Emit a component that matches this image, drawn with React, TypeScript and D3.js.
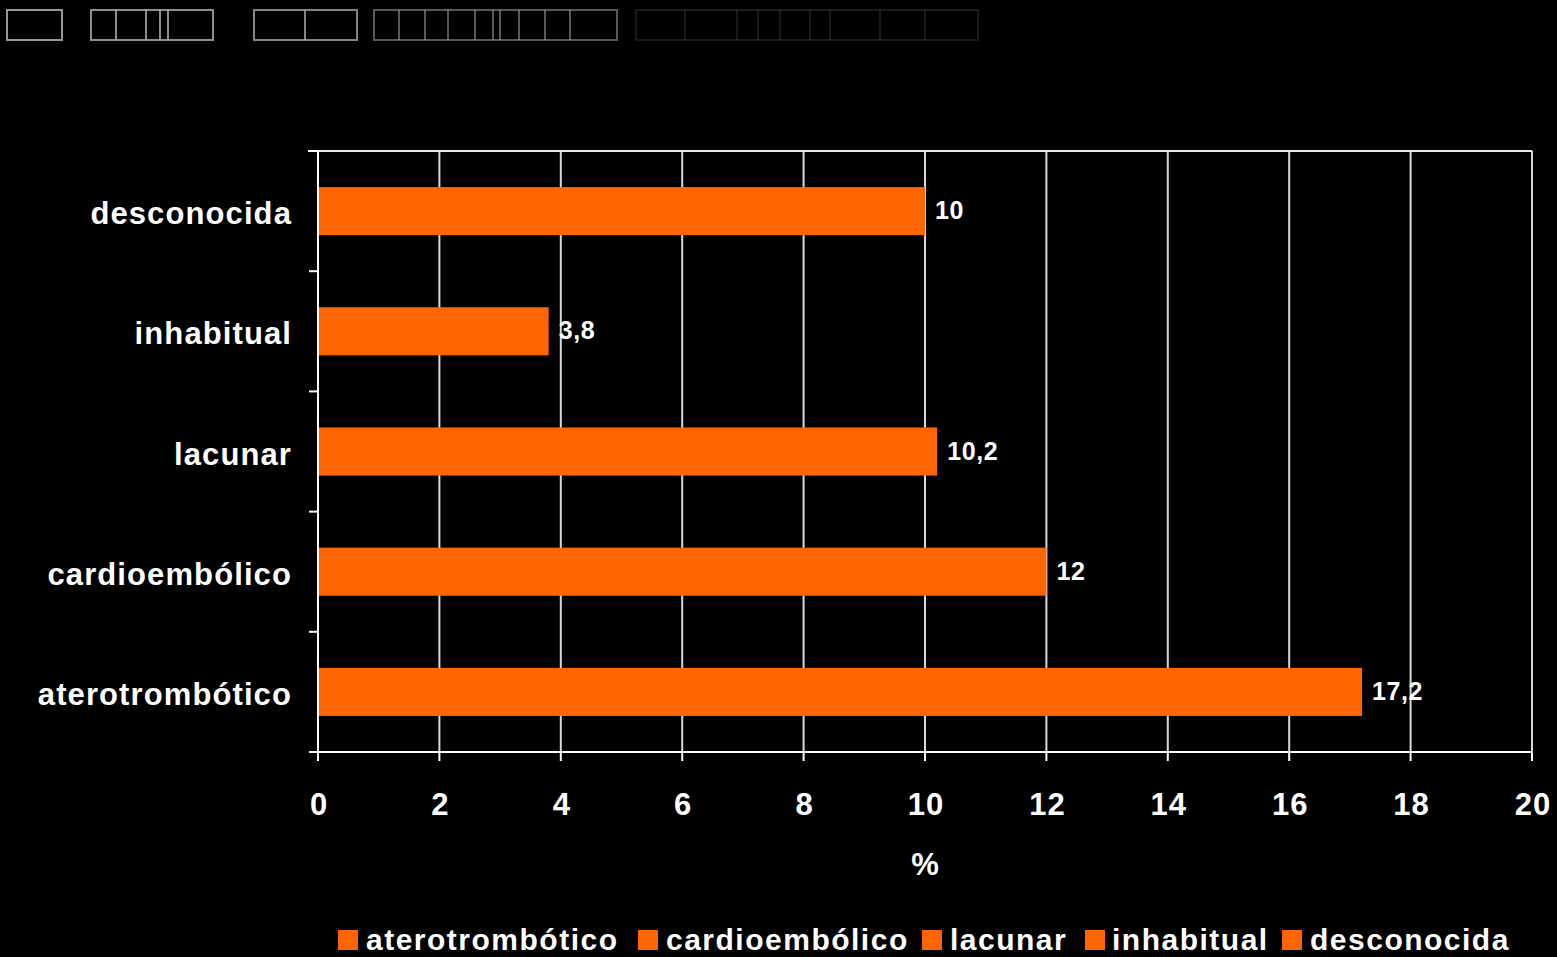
import React from "react";
import * as d3 from "d3";

const categories = ["aterotrombótico", "cardioembólico", "lacunar", "inhabitual", "desconocida"];
const values = [17.2, 12, 10.2, 3.8, 10];
const valueLabels = ["17,2", "12", "10,2", "3,8", "10"];
const xTicks = [0, 2, 4, 6, 8, 10, 12, 14, 16, 18, 20];
const axisTitle = "%";

// decorative "missing glyph" boxes of the unreadable title
const titleBoxes: { x0: number; x1: number; dividers: number[]; op: number }[] = [
  { x0: 7, x1: 62, dividers: [], op: 0.85 },
  { x0: 91, x1: 213, dividers: [116, 146, 160, 168], op: 0.8 },
  { x0: 254, x1: 357, dividers: [305], op: 0.75 },
  { x0: 374, x1: 617, dividers: [399, 425, 448, 475, 493, 500, 519, 545, 570], op: 0.5 },
  { x0: 636, x1: 978, dividers: [685, 737, 758, 780, 810, 830, 880, 925], op: 0.15 },
];

const W = 1557;
const H = 957;
const M = { left: 318, right: 1532, top: 151, bottom: 752 };
const ORANGE = "#FF6600";
const FONT = "'Liberation Sans', Arial, Helvetica, sans-serif";

export default function App() {
  const x = d3.scaleLinear().domain([0, 20]).range([M.left, M.right]);
  const order = categories.map((_, i) => i).reverse();
  const y = d3
    .scaleBand<number>()
    .domain(order)
    .range([M.top, M.bottom])
    .paddingInner(0.6)
    .paddingOuter(0.3);
  const bandEdges = d3.range(categories.length + 1).map((i) => M.top + i * ((M.bottom - M.top) / categories.length));

  const legendItems = [
    { sq: 338, tx: 366 },
    { sq: 638, tx: 666 },
    { sq: 922, tx: 950 },
    { sq: 1085, tx: 1112 },
    { sq: 1282, tx: 1310 },
  ];

  return (
    <div style={{ position: "fixed", left: 0, top: 0, width: W, height: H, background: "#000" }}>
      <svg width={W} height={H} style={{ display: "block", background: "#000" }}>
        <g>
          {titleBoxes.map((b, i) => (
            <g key={i} stroke="#b0b0b0" strokeOpacity={b.op} fill="none" strokeWidth={2}>
              <rect x={b.x0} y={10} width={b.x1 - b.x0} height={30} />
              {b.dividers.map((d, j) => (
                <line key={j} x1={d} x2={d} y1={10} y2={40} />
              ))}
            </g>
          ))}
        </g>

        {xTicks.map((t) => (
          <line key={"g" + t} x1={x(t)} x2={x(t)} y1={M.top} y2={M.bottom} stroke="#d8d8d8" strokeWidth={2} />
        ))}
        <line x1={x(0) - 10} x2={x(20)} y1={M.top} y2={M.top} stroke="#e8e8e8" strokeWidth={2} />

        {values.map((v, i) => (
          <rect key={"b" + i} x={x(0)} y={y(i)!} width={x(v) - x(0)} height={y.bandwidth()} fill={ORANGE} />
        ))}

        <line x1={x(0)} x2={x(0)} y1={M.top} y2={M.bottom + 8} stroke="#fff" strokeWidth={2} />
        {bandEdges.map((e, i) => (
          <line key={"yt" + i} x1={x(0) - 9} x2={x(0)} y1={e} y2={e} stroke="#fff" strokeWidth={2} />
        ))}
        <line x1={x(0) - 9} x2={x(20)} y1={M.bottom} y2={M.bottom} stroke="#fff" strokeWidth={2} />
        {xTicks.map((t) => (
          <line key={"xt" + t} x1={x(t)} x2={x(t)} y1={M.bottom} y2={M.bottom + 9} stroke="#fff" strokeWidth={2} />
        ))}

        {xTicks.map((t) => (
          <text
            key={"xl" + t}
            x={x(t) + 1}
            y={815}
            textAnchor="middle"
            fill="#fff"
            fontFamily={FONT}
            fontWeight="bold"
            fontSize={31}
            letterSpacing={1}
          >
            {t}
          </text>
        ))}
        <text x={925} y={875} textAnchor="middle" fill="#fff" fontFamily={FONT} fontWeight="bold" fontSize={31}>
          {axisTitle}
        </text>

        {categories.map((c, i) => (
          <text
            key={"yl" + i}
            x={292}
            y={y(i)! + y.bandwidth() / 2 + 13}
            textAnchor="end"
            fill="#fff"
            fontFamily={FONT}
            fontWeight="bold"
            fontSize={31}
            letterSpacing={1.1}
          >
            {c}
          </text>
        ))}

        {values.map((v, i) => (
          <text
            key={"vl" + i}
            x={x(v) + 10}
            y={y(i)! + y.bandwidth() / 2 + 8}
            fill="#fff"
            fontFamily={FONT}
            fontWeight="bold"
            fontSize={25}
            letterSpacing={0.6}
          >
            {valueLabels[i]}
          </text>
        ))}

        {categories.map((c, i) => (
          <g key={"lg" + i}>
            <rect x={legendItems[i].sq} y={930} width={20} height={20} fill={ORANGE} />
            <text
              x={legendItems[i].tx}
              y={950}
              fill="#fff"
              fontFamily={FONT}
              fontWeight="bold"
              fontSize={30}
              letterSpacing={1.5}
            >
              {c}
            </text>
          </g>
        ))}
      </svg>
    </div>
  );
}
